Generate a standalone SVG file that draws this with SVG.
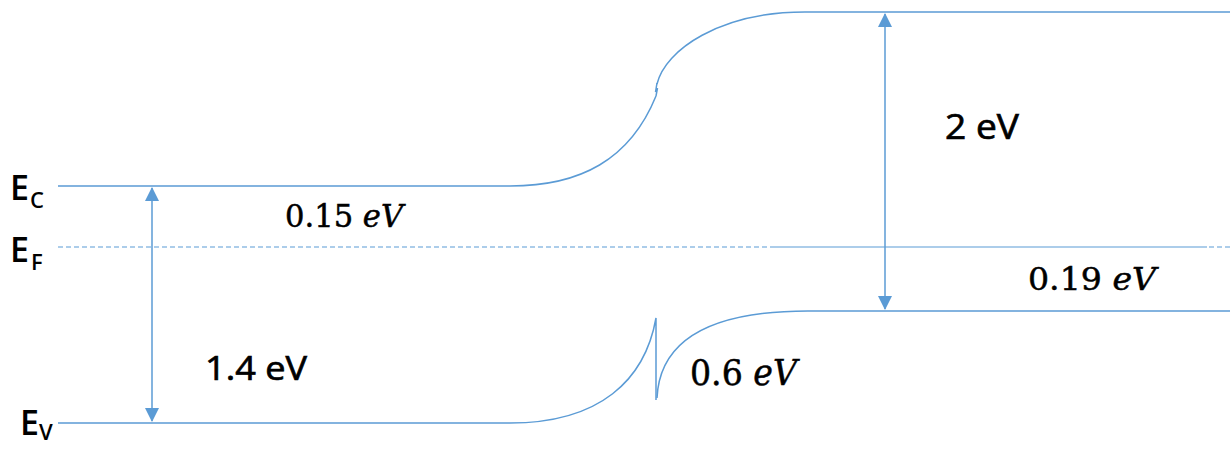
<svg xmlns="http://www.w3.org/2000/svg" width="1232" height="451" viewBox="0 0 1232 451">
<style>
.band{fill:none;stroke:#5B9BD5;stroke-width:1.5}
.fermi{fill:none;stroke:#5B9BD5;stroke-width:1.2}
.arr{fill:none;stroke:#5B9BD5;stroke-width:1.5}
.lbl{font-family:"Open Sans","Liberation Sans",sans-serif;font-weight:400;fill:#000;stroke:#000;stroke-width:0.7}
.elbl{font-family:"Open Sans","Liberation Sans",sans-serif;font-weight:600;font-size:34px;fill:#000}
.sub{font-family:"Open Sans","Liberation Sans",sans-serif;font-weight:600;font-size:22px;fill:#000}
.math{font-family:"DejaVu Serif","Liberation Serif",serif;fill:#000;stroke:#000;stroke-width:0.5}
.it{font-style:italic}
</style>
<defs>
<marker id="ah" viewBox="0 0 14 14" refX="13" refY="7" markerWidth="14" markerHeight="14" markerUnits="userSpaceOnUse" orient="auto-start-reverse">
<path d="M0,0 L14,7 L0,14 Z" fill="#5B9BD5"/>
</marker>
</defs>
<g id="conduction-band">
<path class="band" d="M58,186 L510,186 C580,186 630,160 656,96"/>
<path class="band" d="M656,96 L657.5,88 L655.5,92 L657,83"/>
<path class="band" d="M657,84 C665,50 720,12 805,12 L1230,12"/>
</g>
<g id="valence-band">
<path class="band" d="M58,423 L510,423 C600,423 645,380 656,318 L656,400"/>
<path class="band" d="M657,398 C660,335 720,311 808,311 L1230,311"/>
</g>
<g id="fermi-level">
<path class="fermi" d="M58,247 L772,247" stroke-dasharray="5,3"/>
<path class="fermi" d="M772,247 L1207,247"/>
<path class="fermi" d="M1209,247 L1232,247" stroke-dasharray="5,3"/>
</g>
<g id="connectors">
<line class="arr" x1="152" y1="188" x2="152" y2="421" marker-start="url(#ah)" marker-end="url(#ah)"/>
<line class="arr" x1="885" y1="14" x2="885" y2="309" marker-start="url(#ah)" marker-end="url(#ah)"/>
</g>
<g id="label-Ec">
<text class="elbl" x="10" y="200">E</text>
<text class="sub" x="30" y="208">C</text>
</g>
<g id="label-Ef">
<text class="elbl" x="10" y="262">E</text>
<text class="sub" x="31" y="270">F</text>
</g>
<g id="label-Ev">
<text class="elbl" x="20" y="435">E</text>
<text class="sub" x="39" y="440">V</text>
</g>
<g id="label-1-4">
<text class="lbl" x="205" y="380" font-size="33" textLength="102" lengthAdjust="spacingAndGlyphs">1.4 eV</text>
</g>
<g id="label-2">
<text class="lbl" x="945" y="139" font-size="34" textLength="74" lengthAdjust="spacingAndGlyphs">2 eV</text>
</g>
<g id="label-0-15">
<text class="math" x="285" y="227" font-size="31" textLength="118" lengthAdjust="spacingAndGlyphs">0.15 <tspan class="it">eV</tspan></text>
</g>
<g id="label-0-6">
<text class="math" x="690" y="385" font-size="35" textLength="107" lengthAdjust="spacingAndGlyphs">0.6 <tspan class="it">eV</tspan></text>
</g>
<g id="label-0-19">
<text class="math" x="1028" y="290" font-size="31" textLength="128" lengthAdjust="spacingAndGlyphs">0.19 <tspan class="it">eV</tspan></text>
</g>
</svg>
